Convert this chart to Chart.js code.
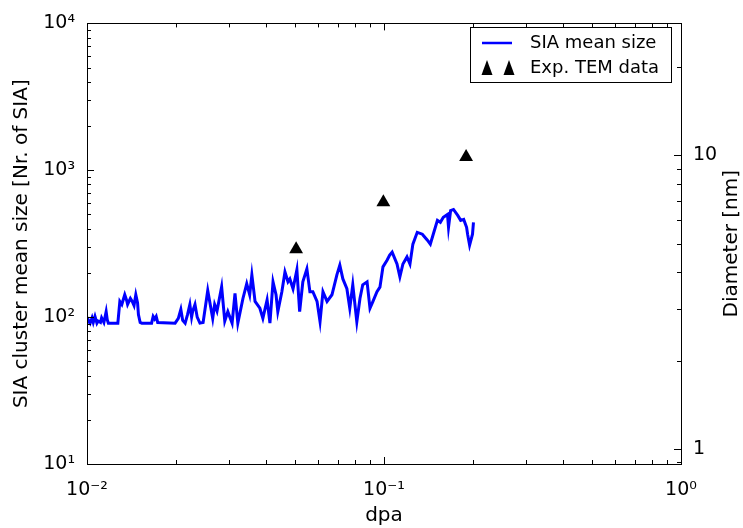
<!DOCTYPE html>
<html>
<head>
<meta charset="utf-8">
<script src="https://cdn.jsdelivr.net/npm/chart.js@4/dist/chart.umd.min.js"></script>
<style>
  html, body { margin: 0; padding: 0; background: #fff; }
</style>
</head>
<body>
<canvas id="canvas" width="743" height="528"></canvas>
<script>
// simulated mean cluster size vs dose
const dpa = [
  0.0100, 0.0101, 0.01025, 0.0104, 0.0105, 0.01064, 0.0108, 0.0109, 0.0111, 0.0112,
  0.0114, 0.0116, 0.0117, 0.0118, 0.0127, 0.0129, 0.0131, 0.0134, 0.0136, 0.0137,
  0.0140, 0.0142, 0.0144, 0.0146, 0.0148, 0.0149, 0.0151, 0.0153, 0.0165, 0.0167,
  0.0169, 0.0171, 0.0173, 0.0198, 0.0203, 0.0207, 0.0210, 0.0214, 0.0218, 0.0222,
  0.0225, 0.0227, 0.0231, 0.0235, 0.0240, 0.0246, 0.0255, 0.0265, 0.0269, 0.0274,
  0.0284, 0.0291, 0.0298, 0.0308, 0.0315, 0.0322, 0.0335, 0.0345, 0.0353, 0.0359,
  0.0368, 0.0382, 0.0391, 0.0404, 0.0413, 0.0423, 0.0433, 0.0439, 0.0453, 0.0464,
  0.0475, 0.0482, 0.0494, 0.0509, 0.0520, 0.0533, 0.0550, 0.0563, 0.0576, 0.0595,
  0.0609, 0.0623, 0.0643, 0.0668, 0.0694, 0.0710, 0.0727, 0.0750, 0.0767, 0.0785,
  0.0810, 0.0830, 0.0848, 0.0877, 0.0897, 0.0918, 0.0947, 0.0969, 0.0992, 0.1025,
  0.1045, 0.1065, 0.1106, 0.1131, 0.1158, 0.1195, 0.1223, 0.1251, 0.1294, 0.1346,
  0.1400, 0.1432, 0.1465, 0.1513, 0.1548, 0.1584, 0.1636, 0.1649, 0.1676, 0.1714,
  0.1771, 0.1812, 0.1855, 0.1897, 0.1912, 0.1942, 0.1986, 0.2001
]
const meanSize = [
  91, 96, 91, 99, 92, 101, 91, 94, 92, 99,
  92, 109, 96, 91, 91, 128, 122, 142, 130, 122,
  134, 128, 120, 142, 125, 104, 92, 91, 91, 101,
  97, 101, 92, 91, 98, 113, 95, 91, 104, 122,
  100, 110, 122, 100, 91, 92, 152, 98, 122, 110,
  161, 94, 109, 91, 145, 91, 134, 169, 142, 194,
  128, 115, 98, 131, 91, 174, 142, 109, 149, 203,
  174, 182, 156, 210, 109, 174, 213, 149, 149, 128,
  93, 149, 128, 142, 194, 226, 182, 156, 115, 166,
  93, 134, 166, 174, 115, 128, 149, 160, 220, 245,
  265, 277, 230, 188, 230, 257, 230, 314, 378, 367,
  334, 314, 367, 456, 442, 478, 500, 409, 532, 541,
  493, 456, 463, 409, 367, 309, 367, 442
]

// experimental TEM points
const temDpa = [0.0506, 0.0995, 0.189]
const temSize = [290, 605, 1230]

const xTicks = [0.01, 0.1, 1]
const yTicks = [10, 100, 1000, 10000]
const diamTicks = [1, 10]
const diamMin = 0.889
const diamMax = 28.1

const FONT = 'DejaVu Sans'
const supMap = { '-': '⁻', '0': '⁰', '1': '¹', '2': '²', '3': '³', '4': '⁴' }
const pow10 = v => '10' + String(Math.round(Math.log10(v))).split('').map(c => supMap[c]).join('')

function minorsBetween(lo, hi) {
  const out = []
  for (let e = Math.floor(Math.log10(lo)) - 1; e <= Math.ceil(Math.log10(hi)); e++) {
    for (let m = 2; m <= 9; m++) {
      const v = m * Math.pow(10, e)
      if (v > lo && v < hi) out.push(v)
    }
  }
  return out
}

const framePlugin = {
  id: 'frame',
  afterDatasetsDraw(chart) {
    const ctx = chart.ctx
    const a = chart.chartArea
    const sx = chart.scales.x, sy = chart.scales.y, sd = chart.scales.y2
    ctx.save()
    ctx.strokeStyle = '#000'
    ctx.lineWidth = 1
    ctx.beginPath()
    const tick = (x1, y1, x2, y2) => { ctx.moveTo(x1, y1); ctx.lineTo(x2, y2) }
    // x ticks top and bottom
    xTicks.forEach(v => {
      const p = Math.round(sx.getPixelForValue(v)) + 0.5
      tick(p, a.bottom, p, a.bottom - 7); tick(p, a.top, p, a.top + 7)
    })
    minorsBetween(0.01, 1).forEach(v => {
      const p = Math.round(sx.getPixelForValue(v)) + 0.5
      tick(p, a.bottom, p, a.bottom - 4); tick(p, a.top, p, a.top + 4)
    })
    // left axis
    yTicks.forEach(v => {
      const p = Math.round(sy.getPixelForValue(v)) + 0.5
      tick(a.left, p, a.left + 7, p)
    })
    minorsBetween(10, 10000).forEach(v => {
      const p = Math.round(sy.getPixelForValue(v)) + 0.5
      tick(a.left, p, a.left + 4, p)
    })
    // right axis
    diamTicks.forEach(v => {
      const p = Math.round(sd.getPixelForValue(v)) + 0.5
      tick(a.right, p, a.right - 7, p)
    })
    minorsBetween(diamMin, diamMax).forEach(v => {
      const p = Math.round(sd.getPixelForValue(v)) + 0.5
      tick(a.right, p, a.right - 4, p)
    })
    ctx.stroke()
    ctx.strokeRect(Math.round(a.left) + 0.5, Math.round(a.top) + 0.5,
      Math.round(a.right - a.left), Math.round(a.bottom - a.top))

    // right axis title, reading bottom to top
    ctx.fillStyle = '#000'
    ctx.font = '20px "' + FONT + '"'
    ctx.textAlign = 'center'
    ctx.textBaseline = 'middle'
    ctx.translate(732, (a.top + a.bottom) / 2)
    ctx.rotate(-Math.PI / 2)
    ctx.fillText('Diameter [nm]', 0, 0)
    ctx.restore()

    // legend
    ctx.save()
    ctx.fillStyle = '#fff'
    ctx.fillRect(470.5, 27.5, 201, 55)
    ctx.strokeStyle = '#000'
    ctx.lineWidth = 1
    ctx.strokeRect(470.5, 27.5, 201, 55)
    ctx.strokeStyle = 'blue'
    ctx.lineWidth = 2.5
    ctx.beginPath(); ctx.moveTo(482, 43); ctx.lineTo(512, 43); ctx.stroke()
    ctx.fillStyle = '#000'
    ;[487, 509].forEach(cx => {
      ctx.beginPath()
      ctx.moveTo(cx, 60); ctx.lineTo(cx + 5.5, 75); ctx.lineTo(cx - 5.5, 75)
      ctx.closePath(); ctx.fill()
    })
    ctx.font = '18px "' + FONT + '"'
    ctx.textAlign = 'left'
    ctx.textBaseline = 'middle'
    ctx.fillText('SIA mean size', 530, 43)
    ctx.fillText('Exp. TEM data', 530, 68)
    ctx.restore()
  }
}

const data = {
  datasets: [
    {
      label: 'SIA mean size',
      data: dpa.map((x, i) => ({ x: x, y: meanSize[i] })),
      showLine: true,
      borderColor: 'blue',
      backgroundColor: 'blue',
      borderWidth: 3,
      pointRadius: 0,
      tension: 0,
      yAxisID: 'y',
    },
    {
      label: 'Exp. TEM data',
      data: temDpa.map((x, i) => ({ x: x, y: temSize[i] })),
      pointStyle: 'triangle',
      pointRadius: 8,
      backgroundColor: '#000',
      borderColor: '#000',
      borderWidth: 0,
      yAxisID: 'y',
    },
  ],
}

const tickFont = { family: FONT, size: 19 }
const titleFont = { family: FONT, size: 20 }

const config = {
  type: 'scatter',
  data: data,
  plugins: [framePlugin],
  options: {
    responsive: false,
    animation: false,
    layout: { padding: { top: 19, left: 0, right: 0, bottom: 0 } },
    plugins: { legend: { display: false }, tooltip: { enabled: false } },
    scales: {
      x: {
        type: 'logarithmic',
        min: 0.01,
        max: 1,
        afterBuildTicks: s => { s.ticks = xTicks.map(v => ({ value: v })) },
        afterFit: s => { s.height = 64 },
        grid: { display: false, drawTicks: false },
        border: { display: false },
        ticks: { callback: v => pow10(v), font: tickFont, color: '#000', padding: 15, maxRotation: 0, autoSkip: false },
        title: { display: true, text: 'dpa', font: titleFont, color: '#000', padding: { top: 0, bottom: 0 } },
      },
      y: {
        type: 'logarithmic',
        position: 'left',
        min: 10,
        max: 10000,
        afterBuildTicks: s => { s.ticks = yTicks.map(v => ({ value: v })) },
        afterFit: s => { s.width = 87 },
        grid: { display: false, drawTicks: false },
        border: { display: false },
        ticks: { callback: v => pow10(v), font: tickFont, color: '#000', padding: 12 },
        title: { display: true, text: 'SIA cluster mean size [Nr. of SIA]', font: titleFont, color: '#000', padding: { top: 10, bottom: 0 } },
      },
      y2: {
        type: 'logarithmic',
        position: 'right',
        min: diamMin,
        max: diamMax,
        afterBuildTicks: s => { s.ticks = diamTicks.map(v => ({ value: v })) },
        afterFit: s => { s.width = 62 },
        grid: { display: false, drawTicks: false },
        border: { display: false },
        ticks: { callback: v => String(v), font: tickFont, color: '#000', padding: 12 },
      },
    },
  },
}

const canvas = document.getElementById('canvas')
const chart = new Chart(canvas, config)
</script>
</body>
</html>
